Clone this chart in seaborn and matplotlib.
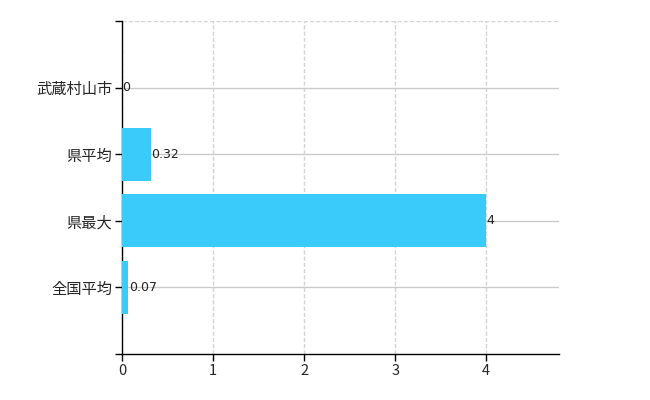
import matplotlib
matplotlib.use("Agg")
import matplotlib.pyplot as plt
import seaborn as sns
import pandas as pd

categories = ["武蔵村山市", "県平均", "県最大", "全国平均"]
values = [0, 0.32, 4, 0.07]
value_labels = ["0", "0.32", "4", "0.07"]
x_ticks = [0, 1, 2, 3, 4]

sns.set_style("white")
plt.rcParams['font.family'] = ['Noto Sans CJK JP', 'DejaVu Sans']

df = pd.DataFrame({"cat": categories, "val": values})

fig = plt.figure(figsize=(6.5, 4.0), dpi=100)
ax = fig.add_axes([122/650, 1-354/400, (559-122)/650, (354-21)/400])

sns.barplot(data=df, x="val", y="cat", orient="h", color="#3ACBFA",
            saturation=1, width=0.8, ax=ax, zorder=3, linewidth=0,
            edgecolor="none")

ax.set_xlim(0, 4.8)
ax.set_ylim(4, -1)
ax.set_xlabel("")
ax.set_ylabel("")

# grid
for xv in x_ticks:
    ax.axvline(xv, color="#d4d4d4", lw=1, ls=(0, (3, 1.5)), zorder=1)
ax.axhline(-1, color="#d4d4d4", lw=1, ls=(0, (3, 1.5)), zorder=1)
for i in range(len(categories)):
    ax.axhline(i, color="#c8ccc8", lw=1, zorder=1)

ax.set_xticks(x_ticks)
ax.set_xticklabels([str(t) for t in x_ticks], fontsize=10.5)
ax.set_yticks([-1, 0, 1, 2, 3, 4])
ax.set_yticklabels([""] + categories + [""], fontsize=11)
ax.tick_params(axis="both", length=5, width=1, color="black", direction="out",
               bottom=True, left=True, pad=2)

for s in ["top", "right"]:
    ax.spines[s].set_visible(False)
for s in ["left", "bottom"]:
    ax.spines[s].set_color("black")
    ax.spines[s].set_linewidth(1)

for i, (v, lab) in enumerate(zip(values, value_labels)):
    ax.text(v + 0.005, i, lab, va="center", ha="left", fontsize=9,
            color="#222222", zorder=4, family=['DejaVu Sans'])

fig.savefig("out.png", dpi=100)
